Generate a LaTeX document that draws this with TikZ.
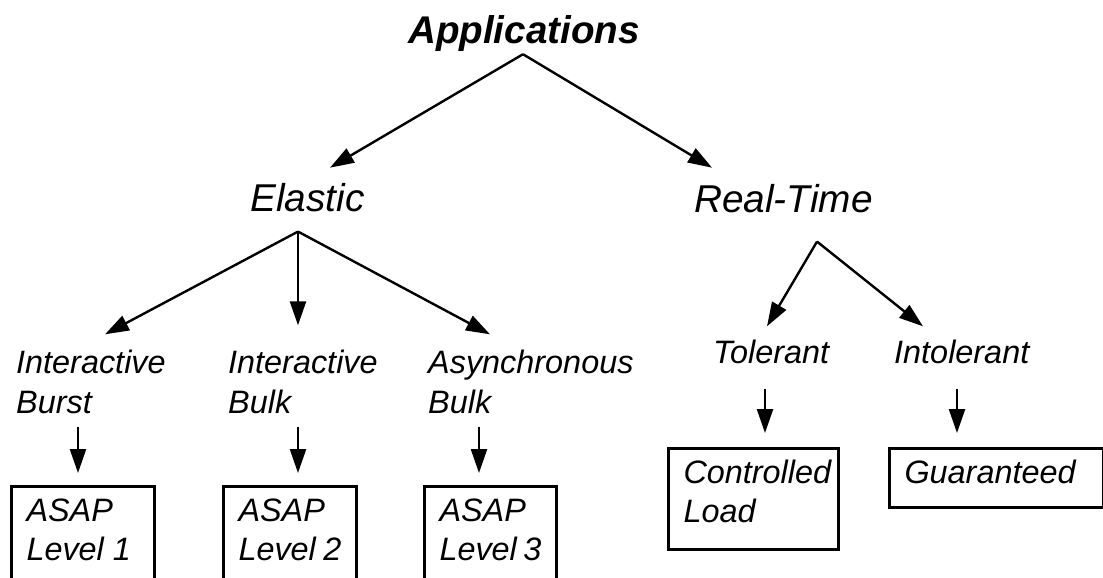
\documentclass[tikz,border=0pt]{standalone}
\usepackage{fontspec}
\setmainfont{Liberation Sans}
\usetikzlibrary{arrows.meta,calc}

\begin{document}
\begin{tikzpicture}[x=0.5pt, y=-0.5pt,
    top/.style = {anchor=base west, inner sep=0pt, font=\fontsize{19.3}{23}\selectfont\bfseries\itshape},
    big/.style = {anchor=base west, inner sep=0pt, font=\fontsize{19.4}{23}\selectfont\itshape},
    lbl/.style = {anchor=base west, inner sep=0pt, align=left, font=\fontsize{16.2}{20}\selectfont\itshape},
    box/.style = {draw, line width=1.5pt, anchor=north west, inner xsep=7.5pt, inner ysep=6pt, font=\fontsize{16.2}{19.5}\selectfont\itshape},
    >={Triangle[length=12pt, width=8pt]}, line width=1.2pt]
        \useasboundingbox (0,0) rectangle (1103,578);
        \clip (0,0) rectangle (1103,578);

        \node[top] (app) at (407, 43) {Applications};
        \node[big] (elastic) at (249, 211) {Elastic};
        \node[big] (rt) at (693, 212) {Real-Time};

        % two-line labels: base is the last line
        \node[lbl] (ib) at (15, 413) {Interactive\\Burst};
        \node[lbl] (ibk) at (227, 413) {Interactive\\Bulk};
        \node[lbl] (ab) at (427, 413) {Asynchronous\\Bulk};
        \node[lbl] (tol) at (712, 363) {Tolerant};
        \node[lbl] (intol) at (893, 363) {Intolerant};

        \node[box] (l1) at (10, 485) {\parbox[t][50pt][t]{56.5pt}{ASAP\\Level 1}};
        \node[box] (l2) at (222, 485) {\parbox[t][50pt][t]{51.5pt}{ASAP\\Level 2}};
        \node[box] (l3) at (423, 485) {\parbox[t][50pt][t]{51pt}{ASAP\\Level 3}};
        \node[box] (cl) at (667, 447) {\parbox[t][38.5pt][t]{70pt}{Controlled\\Load}};
        \node[box] (g) at (888, 447) {\parbox[t][17.5pt][t]{92pt}{Guaranteed}};

        \coordinate (appfork) at ($(app.south)+(-1,2)$);
        \coordinate (elfork) at ($(elastic.south west)+(49,19)$);
        \coordinate (rtfork) at ($(rt.south west)+(124,28)$);

        \draw[->] (appfork) -- ($(elastic.north west)+(81,-14)$);
        \draw[->] (appfork) -- ($(rt.north west)+(19,-15)$);

        \draw[->] (elfork) -- ($(ib.north west)+(90,-14)$);
        \draw[->] (elfork) -- ($(ibk.north west)+(71,-23)$);
        \draw[->] (elfork) -- ($(ab.north west)+(63,-14)$);

        \draw[->] (rtfork) -- ($(tol.north west)+(55,-12)$);
        \draw[->] (rtfork) -- ($(intol.north west)+(30,-12)$);

        \draw[->] ($(ib.south west)+(63,12)$) -- ($(l1.north west)+(68,-12)$);
        \draw[->] ($(ibk.south west)+(71,12)$) -- ($(l2.north west)+(76,-12)$);
        \draw[->] ($(ab.south west)+(52,12)$) -- ($(l3.north west)+(56,-12)$);
        \draw[->] ($(tol.south west)+(53,24)$) -- ($(cl.north west)+(98,-14)$);
        \draw[->] ($(intol.south west)+(64,24)$) -- ($(g.north west)+(69,-14)$);
    \end{tikzpicture}
\end{document}
